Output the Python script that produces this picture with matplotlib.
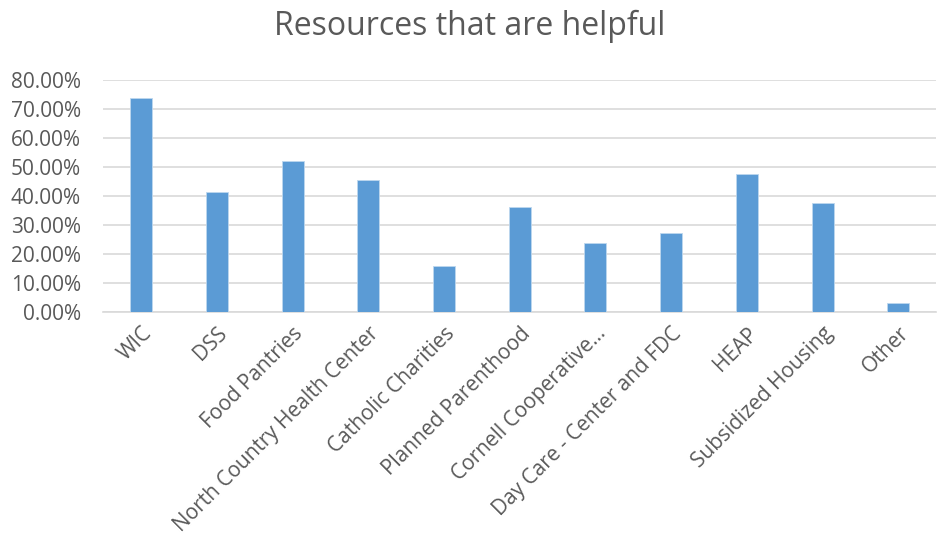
import matplotlib
matplotlib.use("Agg")
import matplotlib.pyplot as plt
from matplotlib.ticker import FuncFormatter
import numpy as np

plt.rcParams['font.family'] = ['Open Sans', 'DejaVu Sans']

categories = ["WIC", "DSS", "Food Pantries", "North Country Health Center",
              "Catholic Charities", "Planned Parenthood", "Cornell Cooperative...",
              "Day Care - Center and FDC", "HEAP", "Subsidized Housing", "Other"]
values = [0.739, 0.412, 0.519, 0.456, 0.157, 0.362, 0.236, 0.272, 0.476, 0.376, 0.030]
yticks = np.arange(0, 0.81, 0.10)

text_color = "#595959"

fig = plt.figure(figsize=(9.39, 5.48), dpi=100)
ax = fig.add_axes([0.110, 0.431, 0.887, 0.423])

x = np.arange(len(categories))
ax.bar(x, values, width=0.29, color="#5B9BD5", edgecolor="#BDD7EE", linewidth=0.6, zorder=3)

ax.set_xlim(-0.5, len(categories) - 0.5)
ax.set_ylim(0, 0.80)
ax.set_yticks(yticks)
ax.yaxis.set_major_formatter(FuncFormatter(lambda v, p: f"{v*100:.2f}%"))
ax.grid(axis="y", color="#D9D9D9", linewidth=1.2, zorder=0)
ax.set_axisbelow(True)

for s in ["top", "right", "left"]:
    ax.spines[s].set_visible(False)
ax.spines["bottom"].set_color("#D9D9D9")
ax.spines["bottom"].set_linewidth(1.2)

ax.set_xticks(x)
ax.set_xticklabels(categories, rotation=45, ha="right", rotation_mode="anchor",
                   fontsize=15, color=text_color)
ax.tick_params(axis="x", length=0, pad=8)
ax.tick_params(axis="y", length=0, pad=16, labelsize=15, labelcolor=text_color)

fig.text(0.5, 0.952, "Resources that are helpful", ha="center", va="center",
         fontsize=23, color=text_color)

fig.savefig("out.png", dpi=100)
